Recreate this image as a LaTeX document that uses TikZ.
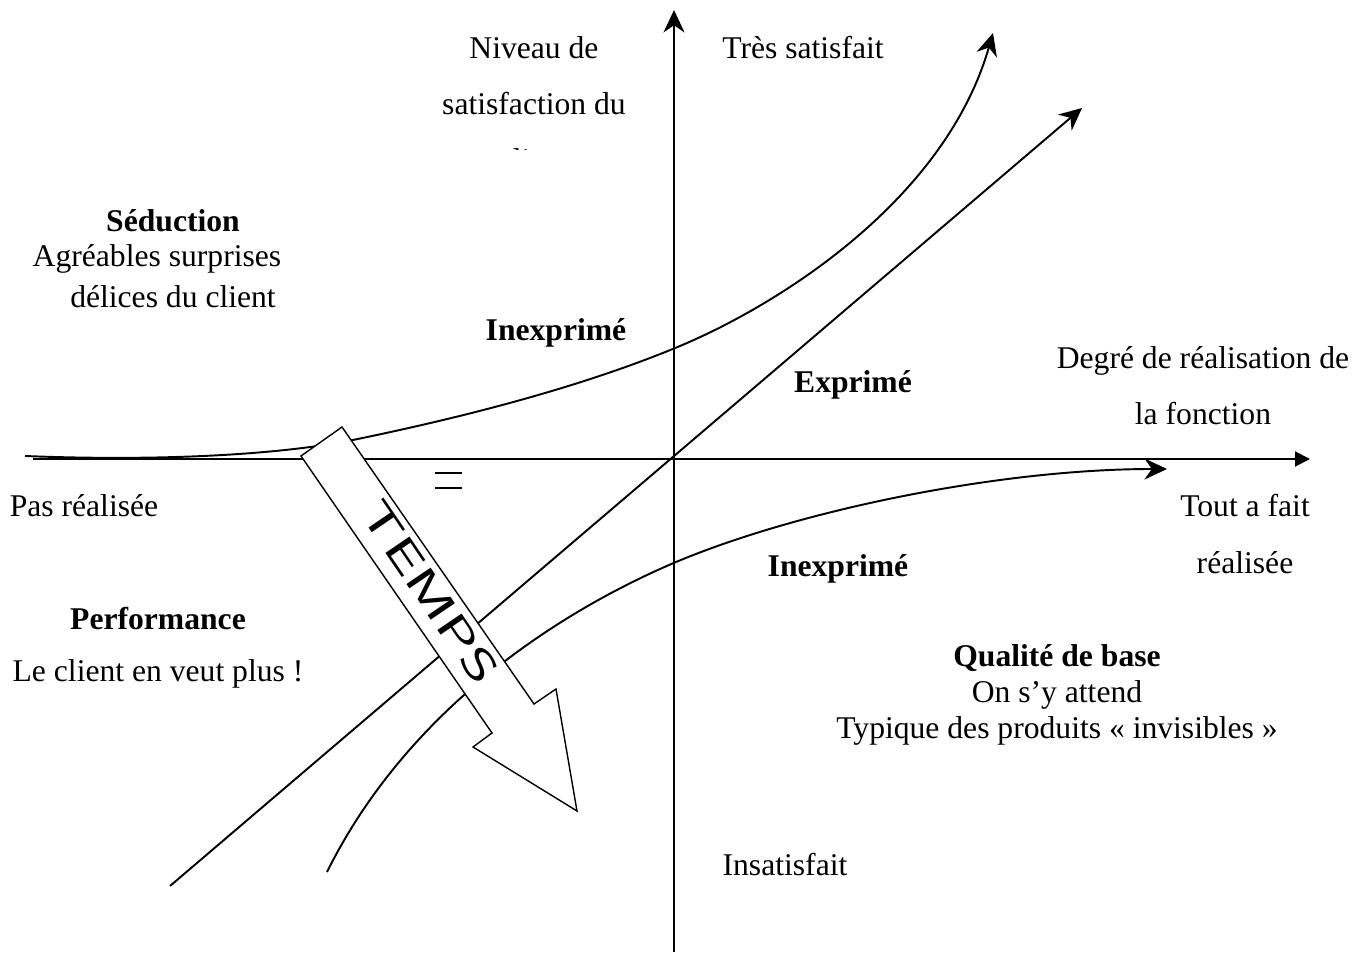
\documentclass[tikz,border=0pt]{standalone}
\usepackage{fontspec}
\setmainfont{Liberation Serif}
\usetikzlibrary{arrows.meta}

\begin{document}
\begin{tikzpicture}[x=0.02cm, y=-0.02cm,
  font=\fontsize{18}{21}\selectfont,
  txt/.style={inner sep=0pt, align=center},
  hd/.style={txt, font=\fontsize{18}{21}\selectfont\bfseries},
  wide/.style={txt, font=\fontsize{18}{31.9}\selectfont},
  axis/.style={line width=1.1pt, -{Triangle[length=0.3cm, width=0.3cm]}},
  curve/.style={line width=1.1pt, -{Stealth[length=0.45cm, width=0.42cm]}},
  temps/.style={draw, fill=white, line width=0.8pt, line join=miter}]
\useasboundingbox (0,0) rectangle (1369,955);
% axes
\coordinate (xs) at (33,459);
\coordinate (xe) at (1310,459);
\coordinate (ys) at (674,952);
\coordinate (ye) at (674,10);
\draw[axis] (xs) -- (xe);
\draw[curve] (ys) -- (ye);
% the three curves
\coordinate (ta) at (25,456);
\coordinate (tb) at (353,440);
\coordinate (tc) at (680,346);
\coordinate (td) at (993,33);
\draw[curve] (ta) .. controls (150,461) and (273,456) .. (tb)
  .. controls (440,422) and (570,392) .. (tc)
  .. controls (780,304) and (945,200) .. (td);
\coordinate (ls) at (170,886);
\coordinate (le) at (1082,108);
\draw[curve] (ls) -- (le);
\coordinate (ba) at (327,872);
\coordinate (bb) at (676,562);
\coordinate (bc) at (1167,469);
\draw[curve] (ba) .. controls (407,711) and (556,613) .. (bb)
  .. controls (800,510) and (1000,469) .. (bc);
% time arrow
\draw[temps] (301,456) -- (492,733) -- (473,747) -- (577,811) -- (556,689) -- (534,704) -- (342,427) -- cycle;
\node[rotate=-55.8, inner sep=0pt, font=\sffamily\fontsize{24}{24}\selectfont] (tps) at (430,592) {\scalebox{1.6}[1]{TEMPS}};
\draw[line width=0.8pt] (435,473) -- (462,473) (435,488) -- (462,488);
% labels
\node[wide] (niv) at (534,76) {Niveau de\\satisfaction du};
\begin{scope}
\clip (440,0) rectangle (640,150);
\node[txt] (cli) at (534,160) {client};
\end{scope}
\node[txt] (tres) at (803,48) {Très satisfait};
\node[hd] (sed) at (173,221) {Séduction};
\node[txt] (agr) at (157,259) {Agréables surprises};
\node[txt] (del) at (173,297) {délices du client};
\node[hd] (inexa) at (556,333) {Inexprimé};
\node[hd] (expr) at (853,385) {Exprimé};
\node[wide] (degre) at (1203,386) {Degré de réalisation de\\la fonction};
\node[txt] (pas) at (84,506) {Pas réalisée};
\node[wide] (tout) at (1245,534) {Tout a fait\\réalisée};
\node[hd] (inexb) at (838,569) {Inexprimé};
\node[hd] (perf) at (158,619) {Performance};
\node[txt] (veut) at (158,674) {Le client en veut plus !};
\node[txt, font=\fontsize{18}{20.4}\selectfont] (qual) at (1057,695) {\textbf{Qualité de base}\\On s’y attend\\Typique des produits « invisibles »};
\node[txt] (insat) at (785,865) {Insatisfait};
\end{tikzpicture}
\end{document}
